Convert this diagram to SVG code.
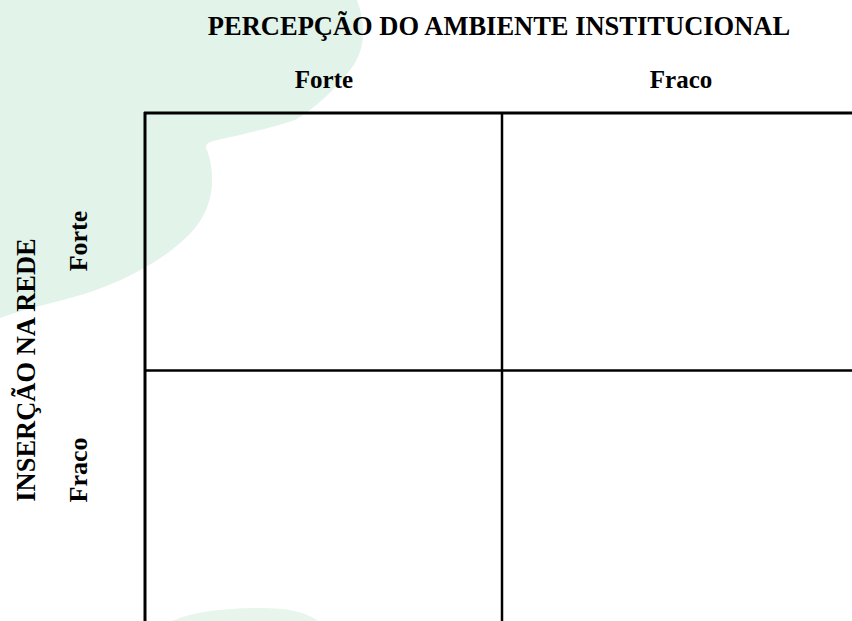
<svg xmlns="http://www.w3.org/2000/svg" width="852" height="621" viewBox="0 0 852 621">
  <style>
    .lbl { font-family: "Liberation Serif", "Times New Roman", serif; font-weight: bold; fill: #000; }
    .grid { stroke: #000; fill: none; }
    .bg { fill: #e2f3e9; }
  </style>
  <rect x="0" y="0" width="852" height="621" fill="#ffffff"/>
  <g id="background">
    <path class="bg" d="M0,0 H357 C366,25 366,50 350,70 C335,90 315,108 295,120 C265,130 230,137 210,142 C205,145 205,148 207,150 C216,175 214,205 195,228 C170,258 120,285 70,298 C40,306 15,312 0,318 Z"/>
    <path class="bg" opacity="0.8" d="M172,621 C192,612 222,608 260,608 C290,608 305,612 318,621 Z"/>
  </g>
  <g id="connectors">
    <line class="grid" x1="144" y1="113" x2="852" y2="113" stroke-width="3"/>
    <line class="grid" x1="145" y1="112" x2="145" y2="621" stroke-width="3"/>
    <line class="grid" x1="502" y1="113" x2="502" y2="621" stroke-width="2.5"/>
    <line class="grid" x1="145" y1="370.5" x2="852" y2="370.5" stroke-width="2.5"/>
  </g>
  <g id="title">
    <text class="lbl" x="499" y="35" font-size="26.5" text-anchor="middle">PERCEPÇÃO DO AMBIENTE INSTITUCIONAL</text>
  </g>
  <g id="col-forte">
    <text class="lbl" x="324" y="88" font-size="25" text-anchor="middle">Forte</text>
  </g>
  <g id="col-fraco">
    <text class="lbl" x="681" y="88" font-size="25" text-anchor="middle">Fraco</text>
  </g>
  <g id="row-title">
    <text class="lbl" transform="translate(35,370) rotate(-90)" font-size="26.5" text-anchor="middle">INSERÇÃO NA REDE</text>
  </g>
  <g id="row-forte">
    <text class="lbl" transform="translate(87,241) rotate(-90)" font-size="26" text-anchor="middle">Forte</text>
  </g>
  <g id="row-fraco">
    <text class="lbl" transform="translate(87,470) rotate(-90)" font-size="26" text-anchor="middle">Fraco</text>
  </g>
</svg>
